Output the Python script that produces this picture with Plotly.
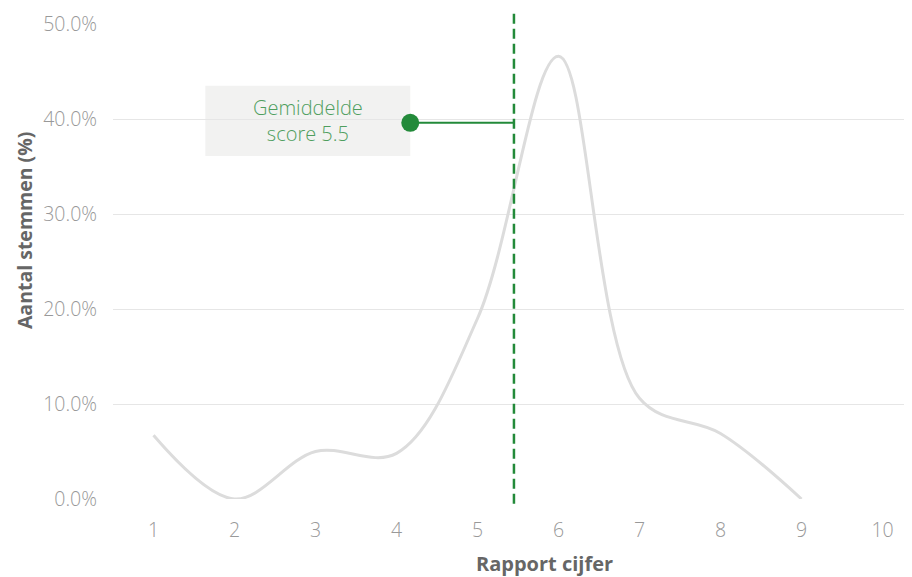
import plotly.graph_objects as go

cijfers = [1, 2, 3, 4, 5, 6, 7, 8, 9]
stemmen = [6.7, 0.0, 5.0, 4.8, 19.0, 46.6, 10.6, 6.9, 0.0]
x_ticks = [1, 2, 3, 4, 5, 6, 7, 8, 9, 10]
y_ticks = [0, 10, 20, 30, 40, 50]
y_ticklabels = ["0.0%", "10.0%", "20.0%", "30.0%", "40.0%", "50.0%"]
gemiddelde = 5.45
label_y = 39.6

FONT = "Open Sans"
GREEN = "#238a3a"

fig = go.Figure()
fig.add_trace(go.Scatter(
    x=cijfers, y=stemmen, mode="lines",
    line=dict(color="#dcdcdc", width=3, shape="spline", smoothing=1.0),
    hoverinfo="skip", showlegend=False,
))
fig.add_trace(go.Scatter(
    x=[4.17, gemiddelde], y=[label_y, label_y], mode="lines",
    line=dict(color=GREEN, width=2), showlegend=False, hoverinfo="skip",
))
fig.add_trace(go.Scatter(
    x=[4.17], y=[label_y], mode="markers",
    marker=dict(color=GREEN, size=18), showlegend=False, hoverinfo="skip",
    cliponaxis=False,
))

fig.add_shape(type="line", xref="x", yref="paper", x0=gemiddelde, x1=gemiddelde,
              y0=-0.01, y1=1.03, line=dict(color=GREEN, width=2.5, dash="10px,5px"), layer="above")
fig.add_shape(type="rect", xref="x", yref="y", x0=1.64, x1=4.17, y0=36.1, y1=43.5,
              fillcolor="#f2f2f1", line=dict(width=0), layer="below")
fig.add_annotation(x=2.905, y=39.8, xref="x", yref="y", text="Gemiddelde<br>score 5.5",
                   showarrow=False, font=dict(family=FONT, size=20, color="#4f9e5e", weight=300),
                   align="center")

# axis titles
fig.add_annotation(x=0.5, y=0, xref="paper", yref="paper", yshift=-64, xanchor="center",
                   yanchor="middle", showarrow=False, text="<b>Rapport cijfer</b>",
                   font=dict(family=FONT, size=20, color="#666666"))
fig.add_annotation(x=0, y=0.564, xref="paper", yref="paper", xshift=-89, xanchor="center",
                   yanchor="middle", showarrow=False, textangle=-90, text="<b>Aantal stemmen (%)</b>",
                   font=dict(family=FONT, size=19.5, color="#666666"))

fig.update_layout(
    width=975, height=577,
    margin=dict(l=105, r=8, t=16, b=86),
    paper_bgcolor="white", plot_bgcolor="white",
    font=dict(family=FONT),
    xaxis=dict(range=[0.5, 11.142], tickvals=x_ticks, showgrid=False, zeroline=False,
               showline=False, ticks="", tickfont=dict(size=19.5, color="#999999", weight=300),
               ticklabelstandoff=17, automargin=False),
    yaxis=dict(range=[0, 50], tickvals=y_ticks, ticktext=y_ticklabels, showgrid=True,
               gridcolor="#e6e6e6", gridwidth=1, zeroline=False, showline=False, ticks="",
               tickfont=dict(size=19.5, color="#999999", weight=300), ticklabelstandoff=15,
               automargin=False),
)

fig.write_html("out.html")
